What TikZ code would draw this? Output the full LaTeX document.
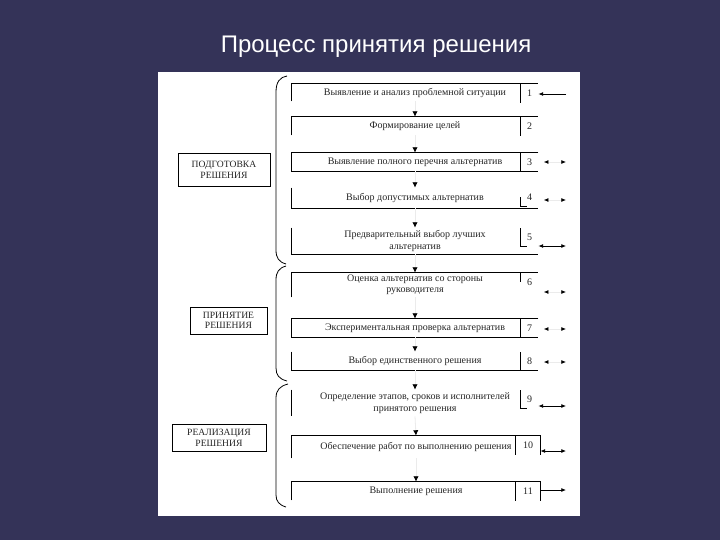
\documentclass[tikz,border=0pt]{standalone}
\usepackage{fontspec}
\setmainfont{Liberation Serif}
\newfontfamily\titlefont{Liberation Sans}
\usepackage{tikz}
\usepackage{xcolor}
\usetikzlibrary{arrows.meta,positioning}

\definecolor{slidebg}{RGB}{52,51,88}

\begin{document}
\begin{tikzpicture}[x=0.75pt,y=0.75pt,yscale=-1,xscale=1,line width=0.6pt,
  stepbox/.style={minimum width=184.5pt,inner sep=0pt,align=center,font=\fontsize{7.5}{8.5}\selectfont,text=black!85},
  numbox/.style={minimum width=12.75pt,minimum height=13.5pt,inner sep=0pt,anchor=north,font=\fontsize{7.5}{8.5}\selectfont,text=black!85},
  phasebox/.style={draw,inner sep=0pt,align=center,font=\fontsize{7.2}{8}\selectfont,text=black!85},
  down/.style={draw=black!8,-{Latex[black,length=4pt,width=4pt]}},
  sidetips/.style={draw=black!8,shorten <=4pt,{Latex[black,length=3.5pt,width=3pt]}-{Latex[black,length=3.5pt,width=3pt]}},
  sideline/.style={draw=black,{Latex[length=3.5pt,width=3pt]}-{Latex[length=3.5pt,width=3pt]}}]
%uncomment if require: \path (0,540); %slide is 720 by 540

%Slide background
\fill [slidebg] (0,0) rectangle (720,540);
%Sheet
\fill [white] (158,72) rectangle (580,516);

% Title
\node [font=\titlefont\fontsize{18}{20}\selectfont,text=white] (title) at (376,47) {Процесс принятия решения};

% Steps
\node [stepbox,minimum height=12.75pt] (s1) at (415,92.5) {Выявление и анализ проблемной ситуации};
\node [stepbox,minimum height=13.5pt] (s2) at (415,126) {Формирование целей};
\node [stepbox,minimum height=13.5pt] (s3) at (415,162) {Выявление полного перечня альтернатив};
\node [stepbox,minimum height=15pt] (s4) at (415,198) {Выбор допустимых альтернатив};
\node [stepbox,minimum height=19.5pt] (s5) at (415,241) {Предварительный выбор лучших\\альтернатив};
\node [stepbox,minimum height=18pt] (s6) at (415,285) {Оценка альтернатив со стороны\\руководителя};
\node [stepbox,minimum height=13.5pt] (s7) at (415,328) {Экспериментальная проверка альтернатив};
\node [stepbox,minimum height=13.5pt] (s8) at (415,361) {Выбор единственного решения};
\node [stepbox,minimum height=19.5pt] (s9) at (415,403) {Определение этапов, сроков и исполнителей\\принятого решения};
\node [stepbox,minimum width=186pt,minimum height=16.5pt] (s10) at (416,447) {Обеспечение работ по выполнению решения};
\node [stepbox,minimum width=186pt,minimum height=13.5pt] (s11) at (416,491) {Выполнение решения};

% Step numbers
\node [numbox] (n1) at (529.5,84) {1};
\node [numbox] (n2) at (529.5,117) {2};
\node [numbox] (n3) at (529.5,153) {3};
\node [numbox] (n4) at (529.5,188) {4};
\node [numbox] (n5) at (529.5,228) {5};
\node [numbox] (n6) at (529.5,273) {6};
\node [numbox] (n7) at (529.5,319) {7};
\node [numbox] (n8) at (529.5,352) {8};
\node [numbox] (n9) at (529.5,390) {9};
\node [numbox,minimum width=18pt] (n10) at (528,436) {10};
\node [numbox,minimum width=18pt] (n11) at (528,482) {11};

% Step frames (partly printed in the scan)
\draw (s1.south west) -- (s1.north west) -- (s1.north east);
\draw (n1.north west) -- (n1.south west);
\draw (s2.south west) -- (s2.north west) -- (s2.north east);
\draw (n2.north west) -- (n2.south west);
\draw (s3.north east) -- (s3.north west) -- (s3.south west) -- (s3.south east);
\draw (n3.north west) -- (n3.south west);
\draw (s4.north west) -- (s4.south west) -- (s4.south east);
\draw (n4.west) -- (n4.south west) -- ++(6,0);
\draw (s5.north west) -- (s5.south west) -- (s5.south east);
\draw (n5.north west) -- (n5.south west) -- ++(6,0);
\draw (s6.south west) -- (s6.north west) -- (s6.north east);
\draw (n6.north west) -- (n6.west);
\draw (s7.north east) -- (s7.north west) -- (s7.south west) -- (s7.south east);
\draw (n7.north west) -- (n7.south west);
\draw (s8.north west) -- (s8.south west) -- (s8.south east);
\draw (n8.north west) -- (n8.south west);
\draw (s9.north west) -- (s9.south west);
\draw (n9.north west) -- (n9.south west) -- ++(6,0);
\draw (s10.south west) -- (s10.north west) -- (s10.north east) -- (n10.south east);
\draw (n10.north west) -- (n10.south west);
\draw (s11.south west) -- (s11.north west) -- (s11.north east) -- (n11.south east);
\draw (n11.north west) -- (n11.south west);

% Flow between steps
\draw [down] (s1.south) -- (s2.north);
\draw [down] (s2.south) -- (s3.north);
\draw [down] (s3.south) -- (s4.north);
\draw [down] (s4.south) -- (s5.north);
\draw [down] (s5.south) -- (s6.north);
\draw [down] (s6.south) -- (s7.north);
\draw [down] (s7.south) -- (s8.north);
\draw [down] (s8.south) -- (s9.north);
\draw [down] (s9.south) -- (s10.north);
\draw [down] (s10.south) -- (s11.north);

% Side links
\coordinate (r1) at (566,94);
\coordinate (r3) at (566,162);
\coordinate (r4) at (566,200);
\coordinate (r5) at (566,246);
\coordinate (r6) at (566,292);
\coordinate (r7) at (566,329);
\coordinate (r8) at (566,362);
\coordinate (r9) at (566,406);
\coordinate (r10) at (566,451);
\coordinate (r11) at (566,490);
\draw [-{Latex[length=3.5pt,width=3pt]}] (r1) -- (r1 -| n1.east);
\draw [sidetips] (r3 -| n3.east) -- (r3);
\draw [sidetips] (r4 -| n4.east) -- (r4);
\draw [sideline] (r5 -| n5.east) -- (r5);
\draw [sidetips] (r6 -| n6.east) -- (r6);
\draw [sidetips] (r7 -| n7.east) -- (r7);
\draw [sidetips] (r8 -| n8.east) -- (r8);
\draw [sideline] (r9 -| n9.east) -- (r9);
\draw [sideline] (r10 -| n10.east) -- (r10);
\draw [-{Latex[length=3.5pt,width=3pt]}] (r11 -| n11.east) -- (r11);

% Brackets
\draw (287,76) .. controls (280,77) and (276,82) .. (276,92) -- (276,250) .. controls (276,258) and (279,262) .. (286,264);
\draw (286,266) .. controls (279,268) and (276,272) .. (276,280) -- (276,368) .. controls (276,375) and (279,379) .. (287,381);
\draw (288,384) .. controls (280,386) and (276,390) .. (276,398) -- (276,495) .. controls (276,501) and (279,505) .. (286,507);

% Phases
\node [phasebox,minimum width=69pt,minimum height=24.75pt] (prep) at (224,169.5) {ПОДГОТОВКА\\РЕШЕНИЯ};
\node [phasebox,minimum width=57.75pt,minimum height=20.25pt] (adopt) at (228.5,320.5) {ПРИНЯТИЕ\\РЕШЕНИЯ};
\node [phasebox,minimum width=70.5pt,minimum height=20.25pt] (impl) at (219,437.5) {РЕАЛИЗАЦИЯ\\РЕШЕНИЯ};

\end{tikzpicture}
\end{document}
